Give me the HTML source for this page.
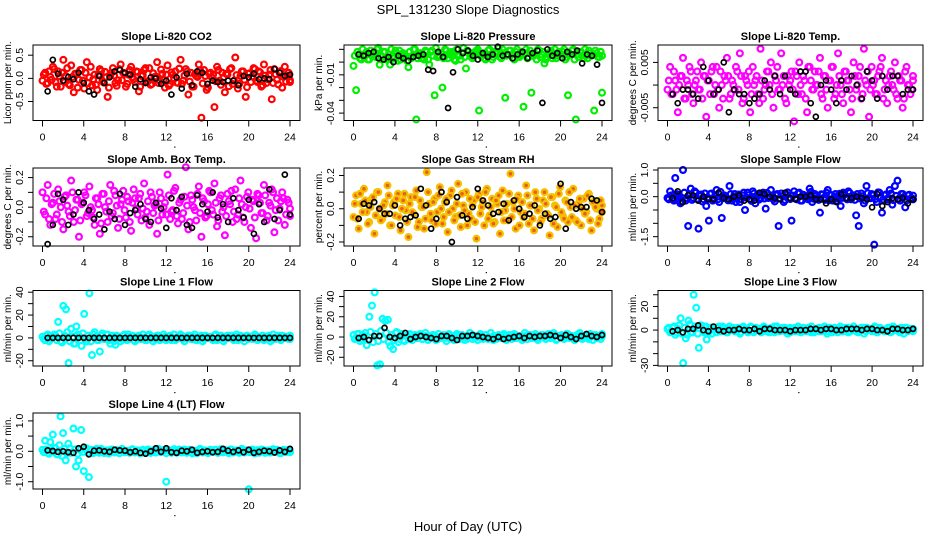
<!DOCTYPE html>
<html><head><meta charset="utf-8"><style>
html,body{margin:0;padding:0;background:#fff;}
svg{display:block;font-family:"Liberation Sans",Arial,sans-serif;}
</style></head><body>
<svg id="chart" width="936" height="540" viewBox="0 0 936 540" xmlns="http://www.w3.org/2000/svg">
<text x="468" y="14" font-size="13" text-anchor="middle">SPL_131230  Slope Diagnostics</text>
<text x="468" y="531" font-size="13" text-anchor="middle">Hour of Day (UTC)</text>
</svg>
<script>
const xTicks=[0,4,8,12,16,20,24];
const co2Col=[-5,12,-10,3,25,-8,15,-18,40,5,-12,28,-30,10,-3,18,-22,35,2,-15,8,-25,20,-6,14,-40,6,22,-10,-4,30,12,-18,8,25,-2,15,-28,5,18,-8,22,-12,3,35,-5,10,-20,28,-12,8,15,-10,40,-5,20,-35,12,-18,5,30,-85,18,-25,10,2,-62,25,-5,12,-30,8,20,-12,45,-22,5,15,-40,10,-8,22,-5,15,-18,30,-10,8,-45,20,-3,12,-20,25,5,-8];
const co2Col2=[8,-12,15,-3,20,-18,5,12,-8,22,-15,3,10,-20,18,-5,12,-10,25,-2,-14,8,16,-9,3,-20,12,6,-16,20,-4,10,-12,18,2,-8,14,-18,7,22,-6,-14,11,4,-10,19,-3,8,-16,13,0,-9,21,-12,6,15,-7,-18,9,3,17,-11,5,-20,12,8,-6,18,-14,2,10,-17,22,-5,7,-12,15,-3,-19,11,4,20,-8,13,-15,6,-2,18,-10,9,-13,16,3,-7,12,-4];
const co2Blk=[-28,40,10,-5,3,-2,12,-10,-28,-35,5,-10,2,15,18,12,8,-18,-2,-10,2,0,-12,-5,-35,2,-22,10,-15,15,12,-12,-5,-8,-8,-5,-5,-15,5,2,10,-2,0,-2,20,12,5,8];
const presCol=[-3,-22,6,2,4,8,2,5,6,10,-2,4,8,3,-2,5,9,1,2,7,5,-4,3,10,-45,6,3,2,8,-2,9,-26,4,5,-20,10,3,7,7,1,6,2,11,-5,8,4,6,9,-38,6,3,5,10,2,8,7,4,10,-28,6,9,3,8,5,6,-35,10,4,-24,5,2,9,6,-1,4,7,3,10,5,6,8,2,-26,6,10,-45,4,8,3,5,9,5,-38,7,4,-24];
const presCol2=[5,8,3,10,6,2,9,7,4,11,5,8,2,6,10,3,7,9,4,6,1,8,5,10,3,7,6,9,2,8,5,11,4,7,3,9,6,8,2,10,5,7,4,9,6,3,8,10,5,7,2,9,6,4,8,11,3,7,5,9,6,2,10,4,8,7,3,9,5,6,10,4,8,2,7,9,5,3,8,6,10,4,7,9,2,6,8,5,10,3,7,6,9,4,8,5];
const presBlk=[6,5,7,8,3,2,4,0,5,3,1,4,5,6,-6,-7,8,4,-36,-8,10,7,9,5,2,7,4,6,12,5,6,3,6,8,3,7,9,-32,10,5,7,3,8,6,9,-1,6,5,-2,-32];
const tempCol=[-1,4,-2,1,-6,2,6,-3,0,3,-4,1,-1,5,2,-7,1,3,-2,4,-5,0,2,6,-3,1,-1,3,7,-4,2,0,-6,4,1,-2,8,-3,0,3,5,-5,1,-1,7,2,-4,0,3,-8,2,5,-2,1,-6,4,-1,3,0,6,-3,2,-5,1,4,-2,7,0,-4,3,1,-6,5,-1,2,-3,8,0,-7,4,1,-2,3,6,-1,-4,2,0,5,-3,1,-5,3,0,-2,1];
const tempCol2=[1,-2,3,-1,0,2,-3,1,4,-2,0,3,-1,-3,2,1,-2,4,0,-1,3,-3,1,2,-2,0,4,-1,2,-3,1,3,-2,0,2,-4,1,-1,3,0,-2,2,4,-1,0,-3,2,1,-1,3,-2,0,2,-3,4,1,-1,0,3,-2,2,-1,1,4,-3,0,2,-2,3,1,-1,-3,2,0,4,-2,1,3,-1,0,-2,2,4,-3,1,0,3,-1,-2,2,1,-3,4,0,-1,2];
const tempBlk=[-2,-4,-1,-1,-2,-3,4,1,-2,-1,5,-6,-1,-2,-2,-4,-3,-2,1,-1,2,-2,2,-1,-2,3,3,-4,-7,0,1,-1,-4,1,-1,2,0,-3,3,1,-3,2,-1,2,2,-2,-1,-1];
const ambCol=[10,-5,15,-12,3,-8,12,0,-15,8,-3,18,-10,5,-20,2,10,-6,14,-2,-12,6,-18,9,0,-10,15,-4,8,-14,2,11,-7,4,-16,12,-1,6,-9,16,-3,-12,7,1,-18,10,-5,3,22,-8,-2,13,-11,5,-4,27,-15,8,0,-9,14,-20,4,-6,11,-2,16,-13,6,-3,-19,9,2,-10,12,-5,18,-7,0,10,-14,4,-21,8,-4,15,-9,3,12,-17,6,-1,10,-12,5,-6];
const ambCol2=[-3,6,-8,2,9,-5,4,-10,7,1,-6,10,-2,5,-9,3,8,-4,0,-7,6,2,-11,9,-3,4,-6,11,1,-8,5,-2,7,-10,3,6,-5,9,-1,-7,4,10,-4,2,-9,6,0,-5,8,-3,11,-6,3,-8,7,1,-10,5,-2,9,-4,6,-7,2,10,-5,3,-9,8,0,-6,4,11,-3,-8,6,2,-10,7,-1,5,-7,9,3,-4,8,-6,1,10,-2,-9,4,6,-5,3,-1];
const ambBlk=[-25,-12,9,5,-12,-5,10,3,-2,-8,-5,-15,-3,-8,9,-12,-4,-2,2,-8,-10,3,-1,-14,6,-2,7,-12,-14,8,2,-3,10,-7,2,-10,6,-2,-7,5,-18,2,-10,12,-8,-2,22,-5];
const rhCol=[-5,8,-12,3,12,-2,-8,6,-15,10,0,-6,4,14,-10,2,-4,9,-13,5,-1,-17,7,-3,11,-8,1,-12,22,3,-7,6,-2,13,-9,4,-14,8,0,-5,15,-11,2,10,-3,-6,5,-18,9,1,-10,12,-4,6,-8,3,-15,11,-1,-7,21,4,-12,8,-2,-5,14,-9,2,-13,6,0,-6,10,-3,-16,7,2,-11,13,-4,5,-8,1,12,-7,3,-10,6,-2,9,-13,4,0,-6,2];
const rhCol2=[3,-6,9,-2,5,-9,1,7,-4,10,-7,2,-3,8,-10,4,6,-5,0,9,-8,3,-2,7,-11,5,1,-6,10,-3,4,-9,8,0,-5,6,-2,11,-7,3,-4,9,-1,-10,6,2,-8,7,-3,4,10,-6,1,-9,5,8,-2,-7,3,9,-5,0,6,-10,4,-3,8,2,-6,10,-1,-8,5,3,-4,7,-9,1,9,-2,-6,4,10,-5,2,-8,6,0,-3,8,-7,4,1,-9,5,-2];
const rhBlk=[-6,3,2,4,0,-3,-3,2,-10,-6,-5,-4,12,2,-12,-6,10,4,-20,7,-4,-6,1,12,5,2,-3,-2,3,-7,5,0,-5,-3,2,-10,-3,-6,-5,15,-12,4,0,1,1,6,5,-2];
const sfCol=[-5,20,-10,70,5,-25,100,-15,-110,30,-5,15,-120,8,-10,-35,-90,12,-5,25,-20,-80,5,-8,40,-15,10,-3,-20,5,-50,15,-10,20,-25,8,-5,15,-45,-5,25,-10,5,-110,12,-20,8,-5,-90,20,-10,15,-15,5,-8,30,-20,10,-5,-60,8,-12,25,5,-15,10,-8,-35,15,-5,20,-10,5,-70,-110,12,-25,40,-5,10,-180,-20,15,-60,5,-10,25,-30,40,60,-15,10,-40,5,-8,-10];
const sfCol2=[-10,5,-15,10,0,-20,15,-5,8,-12,20,-8,3,-18,12,-3,10,-15,5,-10,18,-6,0,-14,10,-2,-20,8,-9,15,-4,6,-16,12,-1,-11,9,-7,14,-3,5,-18,10,-6,2,-13,16,-9,4,-5,12,-15,7,-2,-10,18,-8,3,-12,9,-4,15,-14,6,-1,-17,11,-5,8,-10,14,-3,-12,10,-7,2,-15,13,-6,5,-9,16,-2,-11,8,-4,12,-13,3,-8,10,-1,-14,7,-6,4];
const sfBlk=[-5,20,-20,5,5,-15,0,-10,-10,15,-5,-10,0,5,-15,-10,-15,15,10,0,-5,-10,15,-5,-10,0,0,5,-10,-10,-25,-10,-20,10,-5,-5,0,-5,-10,-40,10,-35,-20,-5,-10,-5,-25,-10];
const l1Col=[1,-2,3,-1,2,2,14,-3,28,25,-22,8,-5,10,2,-7,21,-3,39,-15,5,-2,-12,4,-1,3,-5,2,-6,1,-3,2,-1,3,0,-2,1,2,-1,0,-2,3,1,-1,2,-2,0,1,-1,2,0,-2,1,3,-1,0,2,-1,1,-2,0,2,-1,1,0,-1,2,-2,0,1,-1,2,0,-1,1,-2,2,0,1,-1,0,2,-1,1,0,-2,1,2,-1,0,1,-1,2,0,1,-1];
const l1Col2=[-1,2,-3,1,3,-2,4,-4,2,5,-3,1,-5,3,-2,4,-1,2,-3,3,1,-2,2,-1,3,-2,1,-3,2,0,-1,3,-2,1,2,-3,1,-1,3,-2,2,0,-3,1,2,-1,3,-2,1,-2,3,-1,0,2,-3,1,2,-1,3,-2,1,-3,2,0,1,-2,3,-1,2,-3,1,0,2,-2,3,-1,1,-3,2,1,-1,3,-2,0,2,-1,1,-3,3,-1,2,-2,1,0,-1,2];
const l1Blk=[0,0,0,0,0,0,0,0,0,0,0,0,0,0,0,0,0,0,0,0,0,0,0,0,0,0,0,0,0,0,0,0,0,0,0,0,0,0,0,0,0,0,0,0,0,0,0,0];
const l2Col=[2,-1,3,-2,1,-8,20,31,44,-28,-27,18,16,17,-9,-12,4,-5,2,-3,1,-2,2,0,-1,2,-2,1,0,-1,2,1,-2,0,1,-1,2,0,-3,1,2,-1,0,-2,1,2,-1,0,1,-2,2,0,-1,1,-2,2,0,1,-1,0,2,-1,1,0,-2,1,2,-1,0,1,-1,2,0,1,-1,0,2,-2,1,0,-1,3,1,-1,0,2,-1,1,0,-2,1,2,-1,0,1];
const l2Col2=[-2,3,-4,2,4,-3,5,-5,3,-4,6,-2,4,-5,2,-3,5,-2,3,-4,1,3,-3,2,-1,3,-2,4,-3,1,2,-3,3,-1,2,-4,3,-2,1,3,-2,2,-3,1,4,-2,1,-3,3,-1,2,-2,4,-3,1,2,-1,3,-3,2,-2,3,-1,1,-3,4,-2,2,-1,3,-3,1,2,-2,3,-1,4,-3,1,2,-2,3,-1,1,-3,2,4,-2,1,-1,3,-3,2,1,-2,3];
const l2Blk=[-1,0,-3,1,1,9,0,-1,1,4,-2,0,1,0,-1,-2,1,1,-1,-3,1,1,2,1,0,-1,-2,0,-2,-1,0,1,-1,1,0,1,1,2,1,-1,2,0,-2,1,3,1,0,2];
const l3Col=[1,-2,2,-4,1,10,-28,-7,8,-2,30,19,-15,4,-2,-8,2,-3,1,2,-1,3,0,-2,1,2,-1,0,-2,3,1,-1,2,-2,0,1,-1,2,0,-2,1,3,-1,0,2,-1,1,-2,0,2,-1,1,0,-1,2,-2,0,1,-1,2,0,-1,1,-2,2,0,1,-1,0,2,-1,1,0,-2,1,2,-1,0,1,-1,2,0,1,-1,0,2,-1,1,0,-2,1,2,-1,0,1];
const l3Col2=[2,-1,3,-2,4,-3,2,-4,5,-2,3,-3,4,-1,3,-2,2,1,-2,3,-1,2,-2,3,0,-1,2,-3,2,1,-2,3,-1,2,0,-2,3,-1,1,2,-2,3,-1,0,2,-3,2,1,-1,3,-2,2,0,-1,3,-2,1,2,-1,3,-3,2,0,1,-2,3,-1,2,-2,1,3,-1,0,2,-3,2,1,-1,3,-2,2,0,-1,2,-2,3,1,-1,2,-3,2,0,1,-1];
const l3Blk=[-1,0,-2,1,1,4,0,-1,3,0,-1,0,0,1,0,0,1,-1,1,1,0,0,0,-1,0,0,0,1,1,0,1,1,0,0,1,1,1,0,1,1,0,0,-1,1,1,0,0,1];
const l4Col=[5,35,-5,30,55,10,-10,115,60,-30,25,-5,75,-50,-30,70,-65,10,-85,5,-3,8,-5,4,-6,3,-2,5,-4,2,-5,6,-3,1,-4,5,-2,3,-6,4,-1,2,-5,3,-3,6,-2,1,-100,4,-5,2,-3,6,-1,3,-5,4,-2,1,-6,5,-3,2,-4,3,-1,5,-5,2,-3,4,-2,6,-4,1,-3,5,-2,3,-125,4,-1,2,-5,6,-3,1,-4,3,-2,5,-6,2,-1,4,-3];
const l4Col2=[-3,6,-8,4,12,-10,20,-15,8,-6,10,-4,6,-8,4,-2,7,-5,3,-6,5,-3,8,-4,2,-7,6,-2,4,-6,8,-3,1,-5,7,-4,3,-7,5,-1,6,-5,2,-4,8,-3,4,-6,3,-2,7,-5,1,-4,6,-3,5,-7,2,-1,8,-4,3,-6,5,-2,4,-5,7,-3,1,-6,6,-2,3,-5,8,-4,2,-3,6,-7,4,-1,5,-5,3,-4,7,-2,1,-6,5,-3,4,-2];
const l4Blk=[3,1,-2,0,-3,-5,10,15,-10,2,3,0,-2,5,3,2,-3,0,-5,-8,0,10,-2,10,-3,-5,2,0,5,-5,-2,0,-3,-2,8,2,-2,3,-3,5,-5,-2,2,0,-4,3,-2,8];

const cols=[[33,300],[344,612],[658,923]];
const rows=[[45,120.5],[168,246],[290.5,366],[413,489]];
const NS="http://www.w3.org/2000/svg";
const svg=document.getElementById('chart');
function mk(tag,attrs,parent){const e=document.createElementNS(NS,tag);for(const k in attrs)e.setAttribute(k,attrs[k]);(parent||svg).appendChild(e);return e;}

const panels=[
 {name:'co2',title:'Slope Li-820 CO2',ylab:'Licor ppm per min.',c:0,r:0,ymin:-0.91,ymax:0.72,sc:0.01,col:co2Col,col2:co2Col2,blk:co2Blk,color:'#ff0000',ticks:[-0.5,0,0.5],labels:['-0.5','0.0','0.5']},
 {name:'pressure',title:'Slope Li-820 Pressure',ylab:'kPa per min.',c:1,r:0,ymin:-0.0458,ymax:0.0134,sc:0.001,col:presCol,col2:presCol2,blk:presBlk,color:'#00ee00',ticks:[0.01,0,-0.01,-0.02,-0.03,-0.04],labels:['','','-0.01','','','-0.04']},
 {name:'li820-temp',title:'Slope Li-820 Temp.',ylab:'degrees C per min.',c:2,r:0,ymin:-0.00782,ymax:0.00884,sc:0.001,col:tempCol,col2:tempCol2,blk:tempBlk,color:'#ff00ff',ticks:[0.005,0,-0.005],labels:['0.005','','-0.005']},
 {name:'amb-box-temp',title:'Slope Amb. Box Temp.',ylab:'degrees C per min.',c:0,r:1,ymin:-0.2625,ymax:0.2646,sc:0.01,col:ambCol,col2:ambCol2,blk:ambBlk,color:'#ff00ff',ticks:[0.2,0.1,0,-0.1,-0.2],labels:['0.2','','0.0','','-0.2']},
 {name:'gas-stream-rh',title:'Slope Gas Stream RH',ylab:'percent per min.',c:1,r:1,ymin:-0.224,ymax:0.245,sc:0.01,col:rhCol,col2:rhCol2,blk:rhBlk,color:'#f5c000',fill:'#e8601a',ticks:[0.2,0.1,0,-0.1,-0.2],labels:['0.2','','0.0','','-0.2']},
 {name:'sample-flow',title:'Slope Sample Flow',ylab:'ml/min per min.',c:2,r:1,ymin:-1.85,ymax:1.075,sc:0.01,col:sfCol,col2:sfCol2,blk:sfBlk,color:'#0000ff',ticks:[1,0.5,0,-0.5,-1,-1.5],labels:['1.0','','0.0','','','-1.5']},
 {name:'line1-flow',title:'Slope Line 1 Flow',ylab:'ml/min per min.',c:0,r:2,ymin:-24.6,ymax:41.5,sc:1,col:l1Col,col2:l1Col2,blk:l1Blk,color:'#00ffff',ticks:[40,30,20,10,0,-10,-20],labels:['40','','20','','0','','-20']},
 {name:'line2-flow',title:'Slope Line 2 Flow',ylab:'ml/min per min.',c:1,r:2,ymin:-28.6,ymax:45.9,sc:1,col:l2Col,col2:l2Col2,blk:l2Blk,color:'#00ffff',ticks:[40,30,20,10,0,-10,-20],labels:['40','','20','','0','','-20']},
 {name:'line3-flow',title:'Slope Line 3 Flow',ylab:'ml/min per min.',c:2,r:2,ymin:-30.5,ymax:33.6,sc:1,col:l3Col,col2:l3Col2,blk:l3Blk,color:'#00ffff',ticks:[30,20,10,0,-10,-20,-30],labels:['','20','','0','','','-30']},
 {name:'line4-flow',title:'Slope Line 4 (LT) Flow',ylab:'ml/min per min.',c:0,r:3,ymin:-1.24,ymax:1.26,sc:0.01,col:l4Col,col2:l4Col2,blk:l4Blk,color:'#00ffff',ticks:[1,0.5,0,-0.5,-1],labels:['1.0','','0.0','','-1.0']}
];

panels.forEach(p=>{
  const [L,R]=cols[p.c],[T,B]=rows[p.r];
  const x0=L+9.5,x1=R-10;
  const xs=h=>x0+(h/24)*(x1-x0);
  const ys=v=>B-(v-p.ymin)/(p.ymax-p.ymin)*(B-T);
  const g=mk('g',{});
  
  
  const t=mk('text',{x:(L+R)/2,y:T-5,'font-size':11,'font-weight':'bold','text-anchor':'middle'},g);
  t.textContent=p.title;
  
  
  const gc=mk('g',{fill:p.fill||'none',stroke:p.color,'stroke-width':2.2},g);
  
  
  [[p.col,0],[p.col2,0.125]].forEach(([arr,off])=>{
    arr.forEach((v,i)=>{
      const h=Math.min(24,off+i*24/(arr.length-1));
      const c=mk('circle',{cx:xs(h),cy:ys(v*p.sc),r:2.9},gc);
      
      
    });
  });
  const gb=mk('g',{fill:'none',stroke:'#000','stroke-width':1.7},g);
  
  
  p.blk.forEach((v,i)=>{
    const h=0.5+i*23.5/(p.blk.length-1);
    const c=mk('circle',{cx:xs(h),cy:ys(v*p.sc),r:2.5},gb);
    
    
  });
  const bx=mk('rect',{x:L,y:T,width:R-L,height:B-T,fill:'none',stroke:'#000','stroke-width':1},g);
  
  
  const xa=mk('g',{stroke:'#000','stroke-width':1},g);
  
  
  xTicks.forEach(h=>{
    mk('line',{x1:xs(h),x2:xs(h),y1:B,y2:B+6},xa);
    const tl=mk('text',{x:xs(h),y:B+20,'font-size':10.5,'text-anchor':'middle',stroke:'none',fill:'#000'},xa);
    tl.textContent=h;
    
    
  });
  mk('rect',{x:xs(12)+8,y:B+26,width:1.2,height:1.2,fill:'#000',stroke:'none'},xa);
  const ya=mk('g',{stroke:'#000','stroke-width':1},g);
  
  
  p.ticks.forEach((v,i)=>{
    const y=ys(v);
    mk('line',{x1:L-5,x2:L,y1:y,y2:y},ya);
    if(p.labels[i]){
      const tl=mk('text',{x:L-10,y:y,'font-size':10.5,'text-anchor':'middle',stroke:'none',fill:'#000',transform:`rotate(-90 ${L-10} ${y})`},ya);
      tl.textContent=p.labels[i];
      
      
    }
  });
  const yl=mk('text',{x:L-22,y:(T+B)/2,'font-size':10,'text-anchor':'middle',transform:`rotate(-90 ${L-22} ${(T+B)/2})`},g);
  yl.textContent=p.ylab;
  
  
});
</script>
</body></html>
